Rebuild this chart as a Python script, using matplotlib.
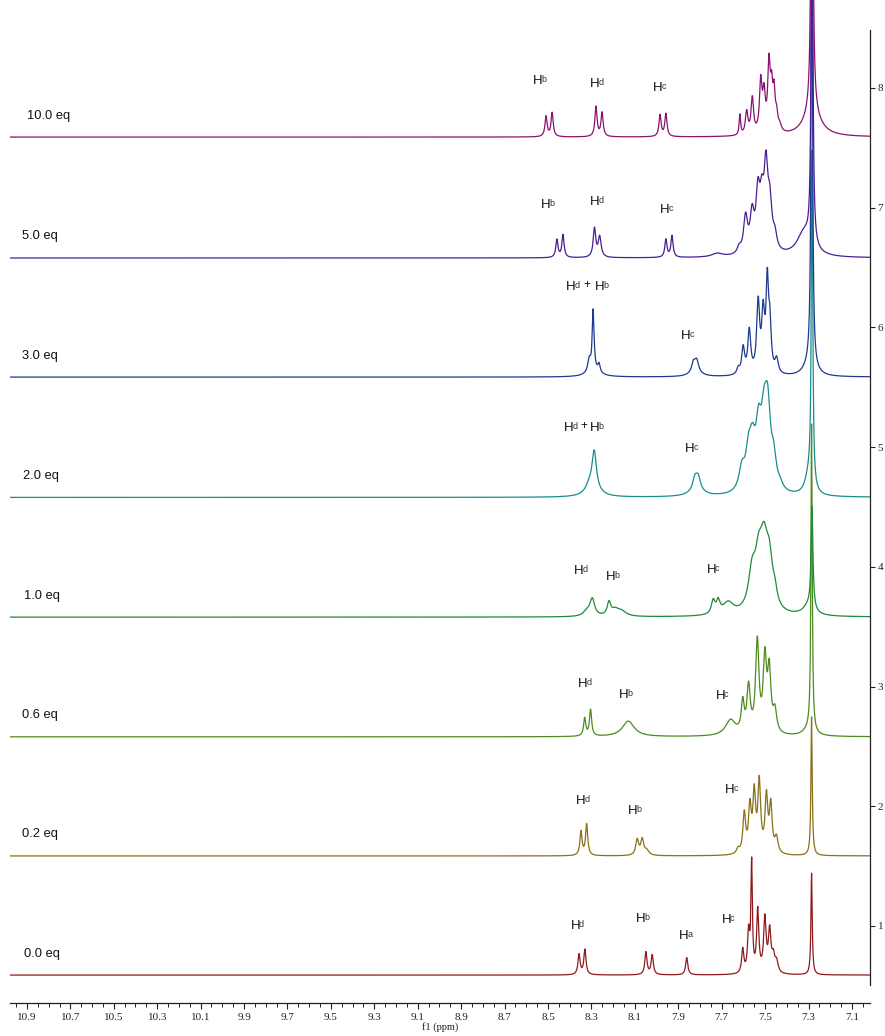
import numpy as np
import matplotlib
matplotlib.use('Agg')
import matplotlib.pyplot as plt
from matplotlib.ticker import FixedLocator, FormatStrFormatter

# ---------------- data ----------------
eq_labels = ['0.0 eq', '0.2 eq', '0.6 eq', '1.0 eq', '2.0 eq', '3.0 eq', '5.0 eq', '10.0 eq']
eq_label_x = [10.913, 10.922, 10.922, 10.913, 10.918, 10.922, 10.922, 10.900]
baselines = [0.59, 1.585, 2.58, 3.58, 4.58, 5.585, 6.58, 7.59]
colors = ['#8e1a1e', '#8a7016', '#4f8a1c', '#1d8a3c', '#1a8c8c', '#1f3890', '#4a1e94', '#8a1272']

# peak centres (ppm), heights (offset units), half widths (ppm)
p00_c = [8.357, 8.330, 8.049, 8.020, 7.861, 7.603, 7.576, 7.562, 7.534, 7.501, 7.479, 7.462, 7.447, 7.286]
p00_h = [0.17, 0.21, 0.19, 0.165, 0.145, 0.20, 0.33, 0.90, 0.52, 0.45, 0.34, 0.13, 0.09, 0.85]
p00_w = [0.006, 0.006, 0.006, 0.006, 0.006, 0.006, 0.006, 0.004, 0.006, 0.007, 0.007, 0.008, 0.008, 0.0035]

p02_c = [8.348, 8.322, 8.089, 8.066, 8.045, 7.625, 7.596, 7.570, 7.550, 7.527, 7.494, 7.474, 7.448, 7.286]
p02_h = [0.20, 0.26, 0.13, 0.13, 0.04, 0.04, 0.33, 0.37, 0.48, 0.58, 0.46, 0.39, 0.13, 1.16]
p02_w = [0.006, 0.006, 0.008, 0.008, 0.012, 0.008, 0.0075, 0.0075, 0.0075, 0.0075, 0.0075, 0.0075, 0.009, 0.0035]

p06_c = [8.331, 8.304, 8.130, 7.659, 7.603, 7.576, 7.536, 7.501, 7.481, 7.455, 7.286, 7.30]
p06_h = [0.15, 0.22, 0.13, 0.13, 0.25, 0.38, 0.76, 0.60, 0.50, 0.18, 2.57, 0.05]
p06_w = [0.006, 0.006, 0.033, 0.028, 0.008, 0.009, 0.009, 0.009, 0.009, 0.010, 0.0035, 0.03]

p10_c = [8.320, 8.296, 8.219, 8.190, 8.160, 7.739, 7.716, 7.670, 7.560, 7.530, 7.505, 7.480, 7.455, 7.284, 7.30]
p10_h = [0.04, 0.14, 0.11, 0.05, 0.04, 0.11, 0.10, 0.10, 0.30, 0.35, 0.50, 0.34, 0.10, 0.85, 0.08]
p10_w = [0.020, 0.013, 0.010, 0.020, 0.025, 0.010, 0.010, 0.030, 0.020, 0.020, 0.022, 0.018, 0.012, 0.005, 0.03]

p20_c = [8.310, 8.287, 8.290, 7.823, 7.808, 7.815, 7.607, 7.576, 7.558, 7.530, 7.505, 7.488, 7.460, 7.430, 7.284, 7.300]
p20_h = [0.06, 0.32, 0.05, 0.10, 0.10, 0.05, 0.18, 0.28, 0.30, 0.45, 0.45, 0.60, 0.22, 0.04, 2.80, 0.15]
p20_w = [0.020, 0.012, 0.040, 0.012, 0.012, 0.040, 0.016, 0.016, 0.016, 0.016, 0.016, 0.016, 0.014, 0.015, 0.004, 0.020]

p30_c = [8.310, 8.292, 8.265, 8.290, 7.830, 7.815, 7.820, 7.624, 7.601, 7.573, 7.532, 7.509, 7.490, 7.478, 7.447, 7.285, 7.295]
p30_h = [0.10, 0.50, 0.07, 0.05, 0.08, 0.09, 0.04, 0.05, 0.22, 0.36, 0.58, 0.47, 0.72, 0.36, 0.12, 4.0, 0.10]
p30_w = [0.008, 0.005, 0.006, 0.035, 0.010, 0.010, 0.030, 0.008, 0.008, 0.008, 0.008, 0.008, 0.007, 0.007, 0.009, 0.004, 0.030]

p50_c = [8.459, 8.431, 8.286, 8.262, 7.957, 7.929, 7.720, 7.620, 7.590, 7.560, 7.533, 7.515, 7.496, 7.478, 7.455, 7.284, 7.320]
p50_h = [0.15, 0.19, 0.24, 0.17, 0.15, 0.18, 0.03, 0.05, 0.30, 0.30, 0.45, 0.35, 0.65, 0.35, 0.12, 4.0, 0.20]
p50_w = [0.006, 0.006, 0.007, 0.008, 0.006, 0.006, 0.030, 0.010, 0.011, 0.011, 0.011, 0.011, 0.011, 0.011, 0.011, 0.004, 0.040]

p100_c = [8.509, 8.481, 8.279, 8.251, 7.984, 7.957, 7.616, 7.585, 7.559, 7.520, 7.505, 7.482, 7.470, 7.459, 7.447, 7.432, 7.284, 7.285]
p100_h = [0.17, 0.20, 0.25, 0.20, 0.18, 0.19, 0.17, 0.19, 0.30, 0.42, 0.30, 0.56, 0.30, 0.30, 0.13, 0.05, 4.0, 0.20]
p100_w = [0.006, 0.006, 0.006, 0.006, 0.006, 0.006, 0.004, 0.007, 0.007, 0.007, 0.007, 0.007, 0.006, 0.006, 0.007, 0.009, 0.0045, 0.045]

spectra_c = [p00_c, p02_c, p06_c, p10_c, p20_c, p30_c, p50_c, p100_c]
spectra_h = [p00_h, p02_h, p06_h, p10_h, p20_h, p30_h, p50_h, p100_h]
spectra_w = [p00_w, p02_w, p06_w, p10_w, p20_w, p30_w, p50_w, p100_w]

# peak annotations: position of "H" (ppm, offset units) and the letter
lab_ppm = [8.396, 8.095, 7.897, 7.700,
           8.371, 8.130, 7.685,
           8.361, 8.173, 7.728,
           8.380, 8.234, 7.769,
           8.426, 8.336, 8.307, 7.869,
           8.417, 8.322, 8.284, 7.888,
           8.532, 8.307, 7.984,
           8.569, 8.307, 8.016]
lab_y = [0.972, 1.036, 0.891, 1.023,
         2.019, 1.936, 2.113,
         2.994, 2.902, 2.894,
         3.941, 3.891, 3.946,
         5.135, 5.177, 5.135, 4.962,
         6.313, 6.355, 6.313, 5.904,
         6.998, 7.023, 6.957,
         8.034, 8.009, 7.976]
lab_txt = ['Hd', 'Hb', 'Ha', 'Hc',
           'Hd', 'Hb', 'Hc',
           'Hd', 'Hb', 'Hc',
           'Hd', 'Hb', 'Hc',
           'Hd', '+', 'Hb', 'Hc',
           'Hd', '+', 'Hb', 'Hc',
           'Hb', 'Hd', 'Hc',
           'Hb', 'Hd', 'Hc']

x_ticks = [10.9, 10.7, 10.5, 10.3, 10.1, 9.9, 9.7, 9.5, 9.3, 9.1, 8.9, 8.7,
           8.5, 8.3, 8.1, 7.9, 7.7, 7.5, 7.3, 7.1]
y_ticks = [1, 2, 3, 4, 5, 6, 7, 8]

# ---------------- figure ----------------
X_LEFT, X_RIGHT = 10.978, 7.017
Y_BOTTOM, Y_TOP = 0.507, 8.735

fig = plt.figure(figsize=(8.85, 10.36), dpi=100)
ax = fig.add_axes([10 / 885, 51 / 1036, 860 / 885, 985 / 1036])

ppm = np.linspace(X_RIGHT, X_LEFT, 8000)
for base, c_list, h_list, w_list, col in zip(baselines, spectra_c, spectra_h, spectra_w, colors):
    y = np.full_like(ppm, base)
    for c, h, w in zip(c_list, h_list, w_list):
        y += h * w ** 2 / ((ppm - c) ** 2 + w ** 2)
    ax.plot(ppm, y, color=col, lw=0.9)

for lab, lx, base in zip(eq_labels, eq_label_x, baselines):
    ax.text(lx, base + 0.155, lab, fontsize=9.3, family='Liberation Sans',
            ha='left', va='baseline', color='#111111')

for x, y, t in zip(lab_ppm, lab_y, lab_txt):
    if t.startswith('H'):
        ax.text(x, y, 'H', fontsize=9.5, family='Liberation Sans', ha='left',
                va='baseline', color='#111111')
        ax.annotate(t[1:], xy=(x, y), xytext=(6.0, 1.5), textcoords='offset points',
                    fontsize=6.5, family='Liberation Sans', ha='left', va='baseline',
                    color='#333333')
    else:
        ax.text(x, y, t, fontsize=8.5, family='Liberation Sans', ha='center',
                va='center', color='#111111')

ax.set_xlim(X_LEFT, X_RIGHT)
ax.set_ylim(Y_BOTTOM, Y_TOP)

ax.spines['left'].set_visible(False)
ax.spines['top'].set_visible(False)
ax.spines['bottom'].set_position(('outward', 13))
ax.spines['right'].set_bounds(0.507, 8.485)
for s in ('bottom', 'right'):
    ax.spines[s].set_linewidth(0.9)
    ax.spines[s].set_color('#222222')

ax.xaxis.set_major_locator(FixedLocator(x_ticks))
ax.xaxis.set_major_formatter(FormatStrFormatter('%.1f'))
ax.xaxis.set_minor_locator(FixedLocator(np.round(np.arange(7.05, 10.98, 0.05), 2)))
ax.tick_params(axis='x', which='major', direction='out', length=4, width=0.8,
               labelsize=8, pad=3, colors='#222222')
ax.tick_params(axis='x', which='minor', direction='out', length=3, width=0.7, colors='#222222')
for lbl in ax.get_xticklabels():
    lbl.set_family('Liberation Serif')

ax.yaxis.tick_right()
ax.set_yticks(y_ticks)
ax.tick_params(axis='y', which='major', direction='out', length=3.5, width=0.8,
               labelsize=8, pad=2, colors='#222222')
for lbl in ax.get_yticklabels():
    lbl.set_family('Liberation Serif')

ax.set_xlabel('f1 (ppm)', fontsize=7.5, family='Liberation Serif', labelpad=0, color='#222222')

fig.savefig('out.png', dpi=100)
